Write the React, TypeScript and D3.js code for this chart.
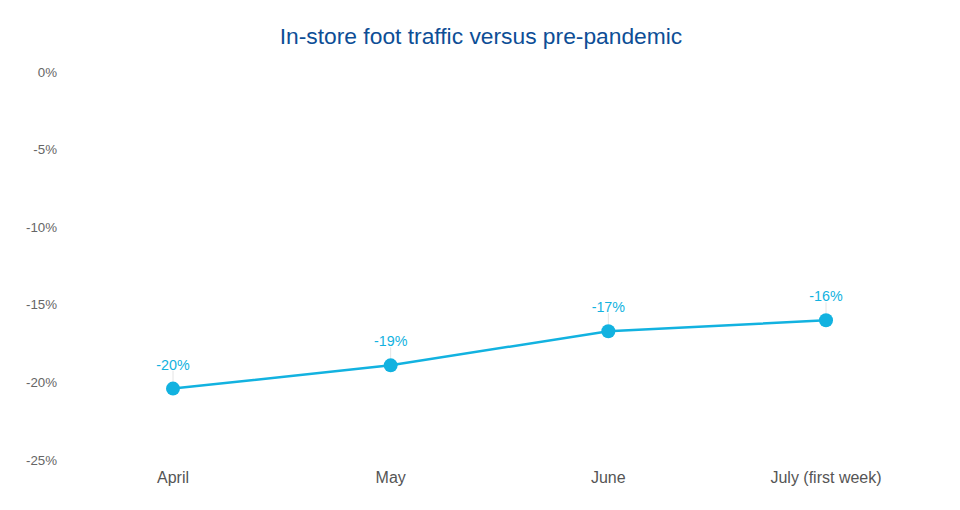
import React from "react";
import * as d3 from "d3";

const categories = ["April", "May", "June", "July (first week)"];
const values = [-20.4, -18.9, -16.7, -16.0];
const yTicks = [0, -5, -10, -15, -20, -25];
const title = "In-store foot traffic versus pre-pandemic";

const W = 960;
const H = 510;
const FONT = "'Liberation Sans', Arial, Helvetica, sans-serif";
const LINE = "#12b2e0";

export default function App() {
  const x = d3.scalePoint<string>().domain(categories).range([173, 826]);
  const y = d3.scaleLinear().domain([-25, 0]).range([460, 72]);
  const line = d3
    .line<number>()
    .x((_, i) => x(categories[i]) as number)
    .y((d) => y(d));

  return (
    <svg
      width={W}
      height={H}
      style={{ position: "absolute", left: 0, top: 0, background: "#fff" }}
      fontFamily={FONT}
    >
      <text x={481} y={44} textAnchor="middle" fontSize={22.8} fill="#0d4e96">
        {title}
      </text>
      {yTicks.map((t) => (
        <text
          key={t}
          x={57}
          y={y(t)}
          dy="0.35em"
          textAnchor="end"
          fontSize={13.3}
          fill="#666"
        >
          {t}%
        </text>
      ))}
      {categories.map((c) => (
        <text
          key={c}
          x={x(c)}
          y={477}
          dy="0.35em"
          textAnchor="middle"
          fontSize={16}
          fill="#555"
        >
          {c}
        </text>
      ))}
      {values.map((v, i) => (
        <line
          key={"l" + i}
          x1={x(categories[i])}
          x2={x(categories[i])}
          y1={y(v) - 18}
          y2={y(v) - 7}
          stroke="#e4e4e4"
          strokeWidth={1}
        />
      ))}
      <path d={line(values) || ""} fill="none" stroke={LINE} strokeWidth={2.5} />
      {values.map((v, i) => (
        <circle key={"c" + i} cx={x(categories[i])} cy={y(v)} r={7} fill={LINE} />
      ))}
      {values.map((v, i) => (
        <text
          key={"t" + i}
          x={x(categories[i])}
          y={y(v) - 24}
          dy="0.35em"
          textAnchor="middle"
          fontSize={14.3}
          fill={LINE}
        >
          {Math.round(v)}%
        </text>
      ))}
    </svg>
  );
}
